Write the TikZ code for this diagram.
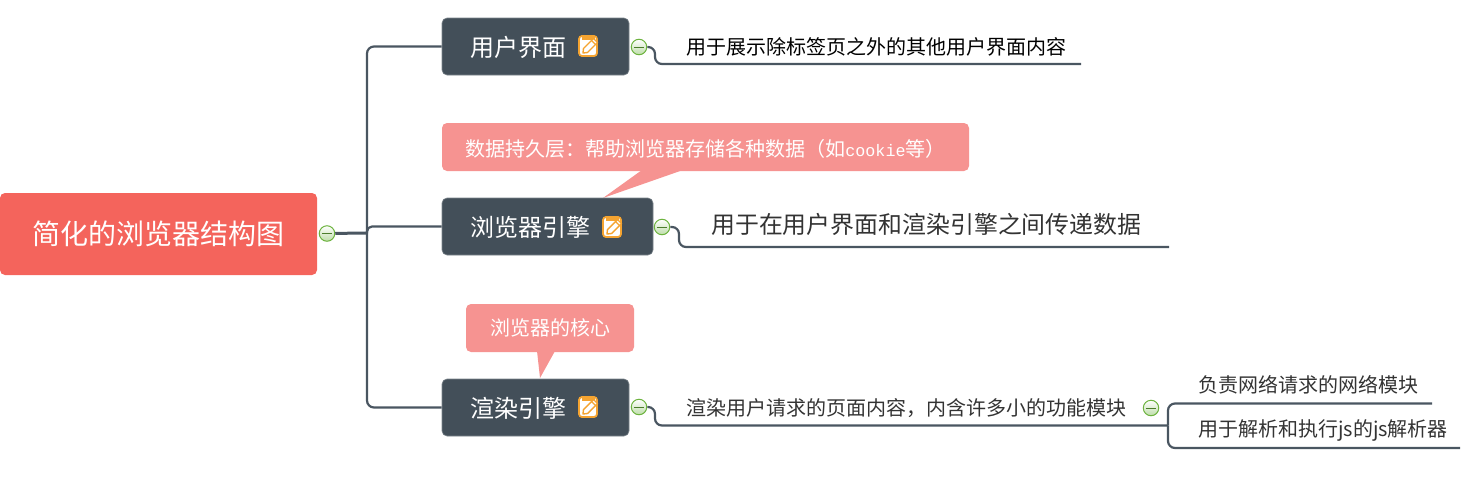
\documentclass[tikz,border=0pt]{standalone}
\usepackage{fontspec}
\setmainfont{Noto Sans CJK SC}
\newfontfamily\cookiefont{Liberation Mono}
\definecolor{rootred}{HTML}{F4645C}
\definecolor{slatebox}{HTML}{434F59}
\definecolor{linkgray}{HTML}{4A5661}
\definecolor{calloutred}{HTML}{F69391}
\definecolor{iconorange}{HTML}{F5A431}
\definecolor{btngreen}{HTML}{6DB33F}
\definecolor{notegray}{HTML}{333333}
\tikzset{
  rootbox/.style={rectangle,rounded corners=5pt,fill=rootred,text=white,minimum width=317pt,minimum height=82pt,inner sep=0pt,font=\fontsize{28}{28}\selectfont},
  topicbox/.style={rectangle,rounded corners=5pt,fill=slatebox,draw=slatebox!70!white,line width=.6pt,text=white,minimum height=57pt,inner xsep=28pt,inner ysep=0pt,text height=23pt,text depth=3pt,align=left,font=\fontsize{24}{24}\selectfont},
  notetext/.style={inner sep=0pt,anchor=west,text=notegray,font=\fontsize{20}{20}\selectfont},
  calloutbox/.style={rectangle,rounded corners=5pt,fill=calloutred,text=white,minimum height=48pt,inner sep=0pt,font=\fontsize{20}{20}\selectfont},
  calloutfill/.style={fill=calloutred},
  foldbtn/.style={circle,draw=btngreen,line width=1pt,top color=white,bottom color=btngreen!45!white,minimum size=15.5pt,inner sep=0pt,
    path picture={\draw[btngreen!70!black,line width=1pt] ([xshift=2.5pt]path picture bounding box.west) -- ([xshift=-2.5pt]path picture bounding box.east);}},
  link/.style={draw=linkgray,line width=2.2pt,rounded corners=7pt},
  rootlink/.style={draw=linkgray,line width=3pt},
  noteicon/.pic={
    \draw[iconorange,line width=1.8pt,fill=white,rounded corners=3pt] (-9,-10) rectangle (9,10);
    \fill[iconorange] (-6.5,-9.5) rectangle (6.5,-6.5);
    % pencil
    \draw[white,line width=5.5pt] (-3.5,5.5) -- (7.5,-5.5);
    \draw[iconorange,line width=1.4pt,line join=round,fill=white] (-5,7) -- (-4.5,2.5) -- (5.5,-7.5) -- (9.5,-3.5) -- (-.5,6.5) -- cycle;
    \draw[iconorange,line width=1.2pt] (3.5,-5.5) -- (7.5,-1.5);
  },
}
\begin{document}
\begin{tikzpicture}[x=1pt,y=-1pt]
\useasboundingbox (0,0) rectangle (1470,477);
% callout tails go under the boxes
\fill[calloutfill] (642,170) -- (603,198) -- (683,170) -- cycle;
\fill[calloutfill] (537,351) -- (540,378) -- (555,351) -- cycle;
\node[rootbox] (root) at (158.5,234) {简化的浏览器结构图};
\node[foldbtn] (rootbtn) at (327,233.5) {};
\coordinate (hub) at (367,233);
% the three topics
\node[topicbox,text width=131pt] (ui) at (535.5,46.5) {用户界面};
\node[topicbox,text width=155pt] (browser) at (547.5,226.5) {浏览器引擎};
\node[topicbox,text width=131pt] (render) at (535.5,407.5) {渲染引擎};
\pic at (588,46) {noteicon};
\pic at (612,227) {noteicon};
\pic at (588,407) {noteicon};
\node[foldbtn] (uibtn) at (639,47) {};
\node[foldbtn] (browserbtn) at (662,227) {};
\node[foldbtn] (renderbtn) at (639,407) {};
\node[foldbtn] (forkbtn) at (1151,408) {};
% callouts
\node[calloutbox,minimum width=527pt,text height=21pt,text depth=3pt] (persist) at (705.5,147) {数据持久层：帮助浏览器存储各种数据（如{\cookiefont\fontsize{16.7}{18}\selectfont cookie}等）};
\node[calloutbox,minimum width=168pt] (core) at (550,328) {浏览器的核心};
% notes
\node[notetext,text=black] (uinote) at (686,47) {用于展示除标签页之外的其他用户界面内容};
\node[notetext,font=\fontsize{23.9}{24}\selectfont] (browsernote) at (711,224) {用于在用户界面和渲染引擎之间传递数据};
\node[notetext] (rendernote) at (686,408) {渲染用户请求的页面内容，内含许多小的功能模块};
\node[notetext] (netnote) at (1198,385) {负责网络请求的网络模块};
\node[notetext] (jsnote) at (1198,430) {用于解析和执行js的js解析器};
\coordinate (uistart) at (655,64);
\coordinate (uiend) at (1081,64);
\coordinate (browserstart) at (679,247);
\coordinate (browserend) at (1169,247);
\coordinate (renderstart) at (655,425.5);
\coordinate (renderend) at (1168,425.5);
\coordinate (netend) at (1432,403.5);
\coordinate (jsend) at (1460,448);
% connectors
\draw[rootlink] (rootbtn) -- (hub);
\draw[link] (hub) |- (ui.west);
\draw[link,rounded corners=5pt] (hub) |- (browser.west);
\draw[link] (hub) |- (render.west);
\draw[link] (uibtn) -| (uistart) -- (uiend);
\draw[link] (browserbtn) -| (browserstart) -- (browserend);
\draw[link] (renderbtn) -| (renderstart) -- (renderend);
\draw[link] (renderend) |- (netend);
\draw[link] (renderend) |- (jsend);
\end{tikzpicture}
\end{document}
